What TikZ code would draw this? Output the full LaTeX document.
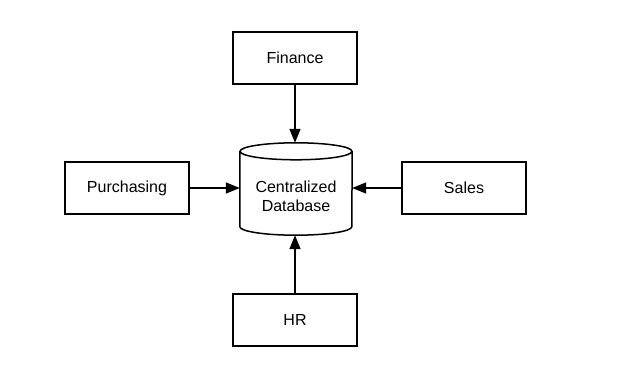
\documentclass[tikz,border=0pt]{standalone}
\usepackage{fontspec}
\setmainfont{Liberation Sans}
\usetikzlibrary{arrows.meta}

\begin{document}
\begin{tikzpicture}[x=1pt, y=-1pt,
	dept/.style={draw, line width=1.5pt, minimum width=124pt, minimum height=52pt, align=center, font=\fontsize{16}{19}\selectfont},
	flow/.style={-{Triangle[length=14pt, width=11pt]}, line width=1.5pt}]
			\useasboundingbox (0,0) rectangle (631,374);
			
			% Database in the middle
			\node[minimum width=112pt, minimum height=92pt] (db) at (296,189) {};
			\draw[line width=1.5pt] ([yshift=-8.5pt]db.north) ellipse (56pt and 8.5pt);
			\draw[line width=1.5pt] ([yshift=-8.5pt]db.north west) -- ([yshift=8.5pt]db.south west)
				arc (180:360:56pt and 8.5pt) -- ([yshift=-8.5pt]db.north east);
			\node[align=center, font=\fontsize{16}{19}\selectfont] (dbname) at ([yshift=-7pt]db.center) {Centralized\\Database};
			
			% Departments
			\node[dept] (finance) at (295,58) {Finance};
			\node[dept] (purchasing) at (127,188) {Purchasing};
			\node[dept] (sales) at (464,188) {Sales};
			\node[dept] (hr) at (295,320) {HR};
			
			% Data flows into the database
			\draw[flow] (finance) -- (finance |- db.north);
			\draw[flow] (purchasing) -- (purchasing -| db.west);
			\draw[flow] (sales) -- (sales -| db.east);
			\draw[flow] (hr) -- (hr |- db.south);
		\end{tikzpicture}
\end{document}
